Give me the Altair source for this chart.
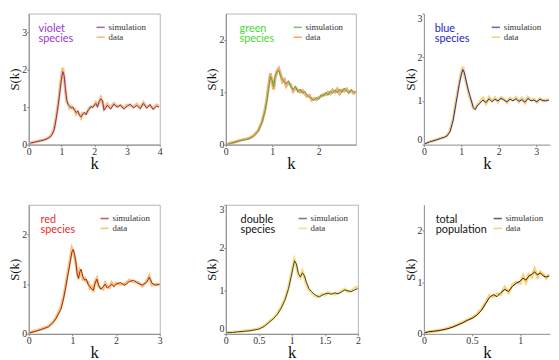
import altair as alt
import pandas as pd

# ---------------- data ----------------
k1 = [0.05,0.15,0.25,0.35,0.45,0.55,0.65,0.72,0.78,0.84,0.9,0.95,1.0,1.04,1.08,1.12,1.16,1.2,1.25,1.3,1.35,1.4,1.45,1.5,1.55,1.6,1.65,1.7,1.75,1.8,1.85,1.9,1.95,2.0,2.05,2.1,2.15,2.2,2.25,2.3,2.35,2.4,2.5,2.6,2.7,2.8,2.9,3.0,3.1,3.2,3.3,3.4,3.5,3.6,3.7,3.8,3.9,3.98]
sim1 = [0.04,0.06,0.08,0.1,0.12,0.15,0.2,0.28,0.4,0.7,1.05,1.4,1.75,1.95,1.85,1.5,1.2,1.08,1.02,0.98,1.0,0.92,0.85,0.9,0.78,0.74,0.82,0.86,0.8,0.9,0.95,1.02,0.98,1.05,1.1,1.0,1.15,1.22,1.18,0.92,0.98,1.05,0.95,1.08,1.0,1.06,0.95,1.02,1.08,0.98,1.05,0.96,1.1,0.97,1.07,0.94,1.03,1.0]
dat1 = [0.04,0.07,0.08,0.11,0.12,0.16,0.21,0.3,0.45,0.75,1.1,1.45,1.82,2.05,1.8,1.45,1.15,1.1,0.98,1.02,0.96,0.95,0.82,0.88,0.8,0.72,0.84,0.83,0.82,0.88,0.98,1.0,1.02,1.04,1.12,1.04,1.12,1.25,1.15,0.95,1.0,1.08,0.98,1.1,1.02,1.04,0.98,1.05,1.06,1.0,1.08,0.98,1.12,1.0,1.05,0.96,1.06,1.02]

k2 = [0.02,0.1,0.2,0.3,0.4,0.5,0.6,0.7,0.78,0.84,0.88,0.92,0.96,1.0,1.03,1.06,1.1,1.14,1.18,1.22,1.26,1.3,1.35,1.4,1.45,1.5,1.55,1.6,1.65,1.7,1.75,1.8,1.85,1.9,1.95,2.0,2.05,2.1,2.15,2.2,2.25,2.3,2.35,2.4,2.45,2.5,2.55,2.6,2.65,2.7,2.75,2.8]
sim2 = [0.0,0.02,0.05,0.07,0.09,0.11,0.16,0.26,0.42,0.62,0.8,1.05,1.3,1.22,1.1,1.3,1.38,1.42,1.3,1.25,1.2,1.16,1.22,1.1,1.05,1.12,1.0,1.06,0.98,1.02,0.95,0.9,0.88,0.84,0.9,0.86,0.95,0.92,1.0,0.94,1.02,0.98,1.04,0.99,1.06,1.0,1.08,1.02,0.98,1.05,1.0,1.01]
dat2 = [0.0,0.03,0.05,0.08,0.1,0.12,0.17,0.27,0.44,0.65,0.85,1.12,1.36,1.18,1.05,1.26,1.4,1.45,1.34,1.2,1.24,1.12,1.18,1.14,1.02,1.08,1.04,1.0,1.03,0.97,0.92,0.94,0.85,0.88,0.86,0.9,0.92,0.96,0.95,1.0,0.97,1.04,1.0,1.06,0.97,1.04,1.02,1.06,1.0,1.03,0.98,1.0]

k3 = [0.03,0.15,0.3,0.45,0.55,0.62,0.7,0.78,0.85,0.9,0.95,1.0,1.04,1.08,1.12,1.17,1.22,1.27,1.32,1.37,1.42,1.5,1.58,1.66,1.74,1.82,1.9,1.98,2.06,2.14,2.22,2.3,2.38,2.46,2.54,2.62,2.7,2.78,2.86,2.94,3.02,3.1,3.18,3.26,3.34]
sim3 = [0.02,0.06,0.1,0.14,0.17,0.2,0.3,0.55,0.9,1.15,1.4,1.6,1.72,1.65,1.5,1.3,1.15,1.0,0.85,0.8,0.88,0.95,1.02,0.96,1.05,0.98,1.04,1.0,1.06,1.02,0.98,1.04,1.0,1.05,0.99,1.03,0.97,1.06,1.0,1.02,0.98,1.04,1.01,1.0,1.02]
dat3 = [0.02,0.07,0.1,0.15,0.17,0.21,0.32,0.58,0.95,1.2,1.45,1.65,1.78,1.6,1.45,1.28,1.1,0.98,0.83,0.82,0.9,0.98,1.06,0.94,1.08,1.0,1.07,0.98,1.08,1.04,0.96,1.06,1.02,1.08,0.98,1.06,0.96,1.08,1.02,1.04,0.97,1.05,1.0,1.02,1.03]

k4 = [0.02,0.15,0.3,0.45,0.55,0.62,0.68,0.74,0.8,0.85,0.9,0.95,0.99,1.02,1.05,1.08,1.11,1.14,1.17,1.2,1.24,1.28,1.32,1.36,1.4,1.44,1.48,1.52,1.56,1.6,1.65,1.7,1.75,1.8,1.85,1.9,1.95,2.0,2.1,2.2,2.3,2.4,2.5,2.6,2.7,2.76,2.82,2.9,3.0]
sim4 = [0.02,0.05,0.09,0.14,0.22,0.3,0.4,0.5,0.72,0.95,1.2,1.45,1.65,1.7,1.6,1.45,1.2,1.12,1.25,1.3,1.15,1.08,1.1,1.0,0.95,0.9,0.88,1.02,1.1,0.98,0.9,0.94,1.0,0.92,0.96,1.0,0.95,1.0,1.03,0.98,1.05,1.08,1.02,0.98,1.04,1.14,1.02,0.98,1.0]
dat4 = [0.02,0.06,0.1,0.15,0.23,0.32,0.42,0.55,0.75,1.0,1.26,1.5,1.72,1.66,1.55,1.4,1.25,1.1,1.28,1.24,1.1,1.12,1.05,1.04,0.92,0.95,0.84,1.06,1.12,0.96,0.92,0.9,1.02,0.95,0.93,1.03,0.97,1.02,1.0,1.0,1.08,1.05,1.04,0.96,1.06,1.16,0.98,1.0,0.99]

k5 = [0.02,0.1,0.2,0.3,0.4,0.5,0.58,0.65,0.72,0.78,0.84,0.9,0.95,1.0,1.04,1.07,1.1,1.13,1.16,1.19,1.22,1.26,1.3,1.34,1.38,1.42,1.46,1.5,1.55,1.6,1.65,1.7,1.75,1.8,1.85,1.9,1.95,2.0]
sim5 = [0.03,0.03,0.05,0.06,0.08,0.11,0.17,0.26,0.35,0.45,0.6,0.8,1.05,1.4,1.7,1.62,1.4,1.32,1.42,1.35,1.2,1.05,0.98,0.92,0.88,0.86,0.9,0.93,0.94,0.92,0.95,0.93,0.97,1.02,1.0,0.98,1.02,1.05]
dat5 = [0.03,0.04,0.05,0.07,0.09,0.12,0.18,0.27,0.36,0.47,0.62,0.83,1.08,1.44,1.72,1.58,1.36,1.3,1.45,1.32,1.16,1.02,0.95,0.9,0.86,0.88,0.92,0.9,0.96,0.94,0.92,0.95,0.99,1.04,0.98,1.0,1.06,1.1]

k6 = [0.01,0.05,0.1,0.15,0.2,0.25,0.3,0.35,0.4,0.45,0.5,0.55,0.6,0.64,0.68,0.72,0.76,0.8,0.84,0.88,0.92,0.96,1.0,1.03,1.06,1.09,1.12,1.15,1.18,1.21,1.24,1.27,1.3]
sim6 = [0.02,0.04,0.05,0.06,0.08,0.1,0.13,0.17,0.21,0.26,0.3,0.36,0.46,0.58,0.7,0.76,0.72,0.8,0.86,0.82,0.92,0.98,1.02,1.08,1.04,1.12,1.15,1.2,1.14,1.18,1.12,1.1,1.12]
dat6 = [0.02,0.04,0.05,0.07,0.08,0.11,0.14,0.18,0.22,0.27,0.31,0.38,0.48,0.6,0.74,0.72,0.78,0.76,0.9,0.8,0.95,1.0,0.98,1.12,1.0,1.15,1.1,1.25,1.1,1.2,1.15,1.08,1.15]

labels = ["violet\nspecies", "green\nspecies", "blue\nspecies", "red\nspecies", "double\nspecies", "total\npopulation"]
label_colors = ["#9a35d6", "#3fdc2a", "#2424c0", "#ee2a2a", "#111111", "#111111"]
sim_colors = ["#7b2f86", "#4fa83a", "#2a2ab8", "#9a2a1a", "#444444", "#3a1a10"]
dat_colors = ["#f4a640", "#f08a3a", "#f2c33a", "#f7a94a", "#f2d24a", "#f2c23e"]
series_names = ["simulation", "data"]


def panel(k, sim, dat, xdom, ydom, xt, yt, w, h, i, lx, tx, frame=True, flush=False):
    df = pd.DataFrame({
        "k": list(k) + list(k),
        "S": list(sim) + list(dat),
        "series": [series_names[0]] * len(k) + [series_names[1]] * len(k),
    })
    color = alt.Color(
        "series:N",
        scale=alt.Scale(domain=series_names, range=[sim_colors[i], dat_colors[i]]),
        legend=alt.Legend(orient="none", legendX=lx, legendY=9, title=None,
                          symbolType="stroke", symbolSize=70, symbolStrokeWidth=1.6,
                          labelFont="Liberation Serif", labelFontSize=9, labelColor="#333",
                          rowPadding=-3, labelOffset=3, padding=0),
    )
    x = alt.X("k:Q", scale=alt.Scale(domain=xdom, nice=False, zero=False),
              axis=alt.Axis(values=xt, title="k", format="~g", titleFontSize=17,
                            titlePadding=-1, labelPadding=0, tickSize=2, labelFlush=False))
    y = alt.Y("S:Q", scale=alt.Scale(domain=ydom, nice=False),
              axis=alt.Axis(values=yt, title="S(k)", format="~g", titleFontSize=13,
                            titlePadding=0, labelPadding=0, tickSize=2, labelFlush=flush))
    base = alt.Chart(df)
    dline = base.transform_filter(alt.datum.series == "data").mark_line(
        strokeWidth=3, opacity=0.7, clip=True).encode(x=x, y=y, color=color)
    sline = base.transform_filter(alt.datum.series == "simulation").mark_line(
        strokeWidth=1, clip=True).encode(x=x, y=y, color=color)
    txt = alt.Chart(pd.DataFrame({"t": [labels[i]]})).mark_text(
        align="left", baseline="top", lineBreak="\n", font="Lato", fontSize=11,
        lineHeight=10, color=label_colors[i]).encode(
        x=alt.value(tx), y=alt.value(10), text="t:N")
    props = dict(width=w, height=h)
    if not frame:
        props["view"] = alt.ViewBackground(stroke="transparent")
    return alt.layer(dline, sline, txt).properties(**props)


p1 = panel(k1, sim1, dat1, [0, 4], [0, 3.5], [0, 1, 2, 3, 4], [0, 1, 2, 3], 133, 133, 0, 68, 10)
p2 = panel(k2, sim2, dat2, [0, 2.8], [0, 2.5], [0, 1, 2], [0, 1, 2], 132, 133, 1, 68, 14)
p3 = panel(k3, sim3, dat3, [0, 3.37], [0, 3], [0, 1, 2, 3], [0, 1, 2, 3], 128, 133, 2, 68, 11, frame=False, flush=True)
p4 = panel(k4, sim4, dat4, [0, 3], [0, 2.6], [0, 1, 2, 3], [0, 1, 2], 133, 131, 3, 72, 12)
p5 = panel(k5, sim5, dat5, [0, 2], [0, 3], [0, 0.5, 1, 1.5, 2], [0, 1, 2, 3], 134, 131, 4, 73, 15, flush=True)
p6 = panel(k6, sim6, dat6, [0, 1.31], [0, 2.5], [0, 0.5, 1], [0, 1, 2], 128, 131, 5, 70, 12, frame=False)

chart = alt.concat(
    p1, p2, p3, p4, p5, p6, columns=3,
    spacing={"row": 61, "column": 67}, bounds="flush",
).resolve_scale(
    color="independent"
).properties(
    padding={"left": 0, "top": 2, "right": 0, "bottom": 0}
).configure_view(
    stroke="#b5b5b5"
).configure_axis(
    labelFont="Liberation Serif", labelFontSize=10, labelColor="#333",
    titleFont="Liberation Serif", titleColor="#111", titleFontWeight="normal",
    grid=False, tickColor="#888", domainColor="#888",
)

chart.save("out.html", embed_options={"renderer": "svg", "actions": False})
